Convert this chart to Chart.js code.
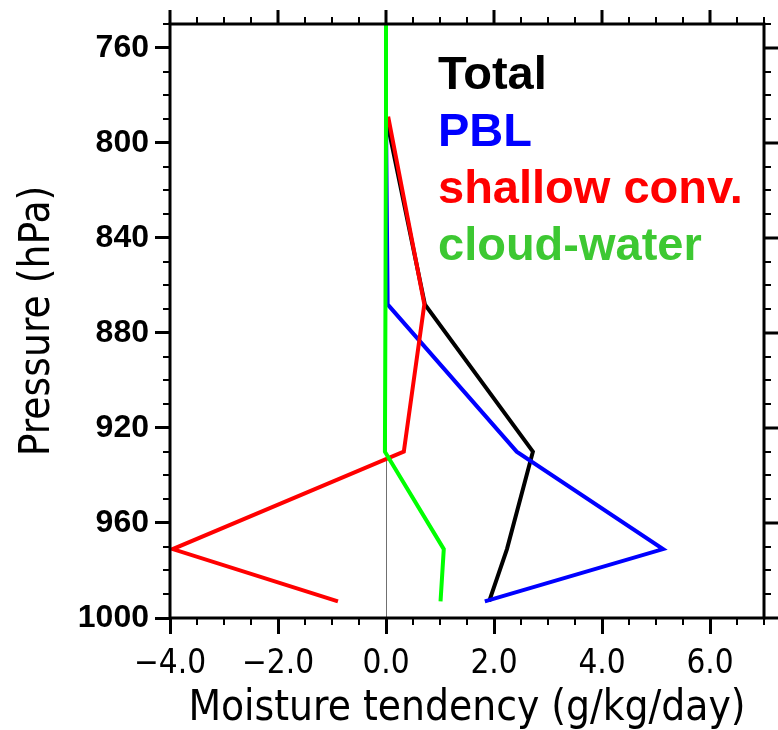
<!DOCTYPE html>
<html>
<head>
<meta charset="utf-8">
<script src="https://cdn.jsdelivr.net/npm/chart.js@4/dist/chart.umd.min.js"></script>
<style>
  body { margin: 0; background: #fff; }
  canvas { display: block; }
</style>
</head>
<body>
<canvas id="perfil" width="778" height="730"></canvas>
<script>
  // pressure levels (hPa), from the surface up
  const levels = [993, 971, 930, 868, 789, 750];

  // moisture tendency (g/kg/day) at each level
  const total   = [1.91, 2.24, 2.72, 0.72, 0.0, 0.0];
  const pbl     = [1.83, 5.13, 2.42, 0.03, 0.0, 0.0];
  const shallow = [-0.89, -3.95, 0.33, 0.71, 0.04, null];
  const cloud   = [1.01, 1.07, -0.02, -0.01, 0.0, 0.0];

  const names      = ["Total", "PBL", "shallow conv.", "cloud-water"];
  const lineColors = ["#000000", "#0000ff", "#ff0000", "#00ff00"];
  const textColors = ["#000000", "#0000ff", "#ff0000", "#3dc832"];

  const xTicks = [-4, -2, 0, 2, 4, 6];
  const yTicks = [760, 800, 840, 880, 920, 960, 1000];

  const ncl = "'DejaVu Sans Condensed', 'DejaVu Sans', sans-serif";

  // minor ticks + top/right ticks + box around the plot
  const frame = {
    id: "frame",
    afterDatasetsDraw(chart) {
      const { ctx, chartArea: a, scales: { x, y } } = chart;
      ctx.save();
      ctx.strokeStyle = "#000";
      ctx.lineCap = "butt";

      // minor ticks
      ctx.lineWidth = 2;
      ctx.beginPath();
      for (let v = x.min; v <= x.max; v += 0.5) {
        if (xTicks.includes(v)) continue;
        const px = Math.round(x.getPixelForValue(v));
        ctx.moveTo(px, a.bottom); ctx.lineTo(px, a.bottom + 7);
        ctx.moveTo(px, a.top);    ctx.lineTo(px, a.top - 7);
      }
      for (let p = y.min; p <= y.max; p += 10) {
        if (yTicks.includes(p)) continue;
        const py = Math.round(y.getPixelForValue(p));
        ctx.moveTo(a.left, py);  ctx.lineTo(a.left - 7, py);
        ctx.moveTo(a.right, py); ctx.lineTo(a.right + 7, py);
      }
      ctx.stroke();

      // major ticks on top and right
      ctx.lineWidth = 3;
      ctx.beginPath();
      xTicks.forEach(v => {
        const px = Math.round(x.getPixelForValue(v));
        ctx.moveTo(px, a.top); ctx.lineTo(px, a.top - 14);
      });
      yTicks.forEach(p => {
        const py = Math.round(y.getPixelForValue(p));
        ctx.moveTo(a.right, py); ctx.lineTo(a.right + 14, py);
      });
      ctx.stroke();

      ctx.lineWidth = 3;
      ctx.strokeRect(a.left, a.top, a.right - a.left, a.bottom - a.top);
      ctx.restore();
    },
    afterDraw(chart) {
      const ctx = chart.ctx;
      ctx.save();
      ctx.font = "bold 47px 'Liberation Sans', Arial, sans-serif";
      ctx.textAlign = "left";
      ctx.textBaseline = "alphabetic";
      chart.data.datasets.forEach((ds, i) => {
        ctx.fillStyle = textColors[i];
        ctx.fillText(ds.label, 438, 89 + i * 57);
      });
      ctx.restore();
    }
  };

  const series = [total, pbl, shallow, cloud];

  new Chart(document.getElementById("perfil"), {
    type: "line",
    data: {
      datasets: series.map((vals, i) => ({
        label: names[i],
        data: levels.map((p, k) => ({ x: vals[k], y: p })),
        borderColor: lineColors[i],
        borderWidth: 4,
        pointRadius: 0,
        tension: 0,
        fill: false,
        order: 3 - i
      }))
    },
    options: {
      responsive: false,
      animation: false,
      layout: { padding: { left: 0, top: 24, right: 14, bottom: 0 } },
      plugins: { legend: { display: false }, tooltip: { enabled: false } },
      scales: {
        x: {
          type: "linear",
          min: -4,
          max: 7,
          afterBuildTicks: s => { s.ticks = xTicks.map(v => ({ value: v })); },
          afterFit: s => { s.height = 112; s.paddingLeft = 0; s.paddingRight = 0; },
          border: { display: false },
          grid: {
            drawOnChartArea: true,
            color: c => (c.tick && c.tick.value === 0 ? "#707070" : "rgba(0,0,0,0)"),
            lineWidth: 1,
            tickColor: "#000",
            tickWidth: 3,
            tickLength: 16
          },
          ticks: {
            color: "#000",
            padding: 11,
            maxRotation: 0,
            font: { family: ncl, size: 33 },
            callback: v => (v < 0 ? "\u2212" : "") + Math.abs(v).toFixed(1)
          },
          title: {
            display: true,
            text: "Moisture tendency (g/kg/day)",
            color: "#000",
            font: { family: ncl, size: 42, lineHeight: 1 },
            padding: { top: 0, bottom: 0 }
          }
        },
        y: {
          type: "linear",
          reverse: true,
          min: 750,
          max: 1000,
          afterBuildTicks: s => { s.ticks = yTicks.map(v => ({ value: v })); },
          afterFit: s => { s.width = 170; s.paddingTop = 0; s.paddingBottom = 0; },
          border: { display: false },
          grid: {
            drawOnChartArea: false,
            tickColor: "#000",
            tickWidth: 3,
            tickLength: 15
          },
          ticks: {
            color: "#000",
            padding: 6,
            font: { family: "'Liberation Sans', Arial, sans-serif", size: 32, weight: "bold" },
            callback: v => String(v)
          },
          title: {
            display: true,
            text: "Pressure (hPa)",
            color: "#000",
            font: { family: ncl, size: 42, lineHeight: 1 },
            padding: { top: 17, bottom: 0 }
          }
        }
      }
    },
    plugins: [frame]
  });
</script>
</body>
</html>
